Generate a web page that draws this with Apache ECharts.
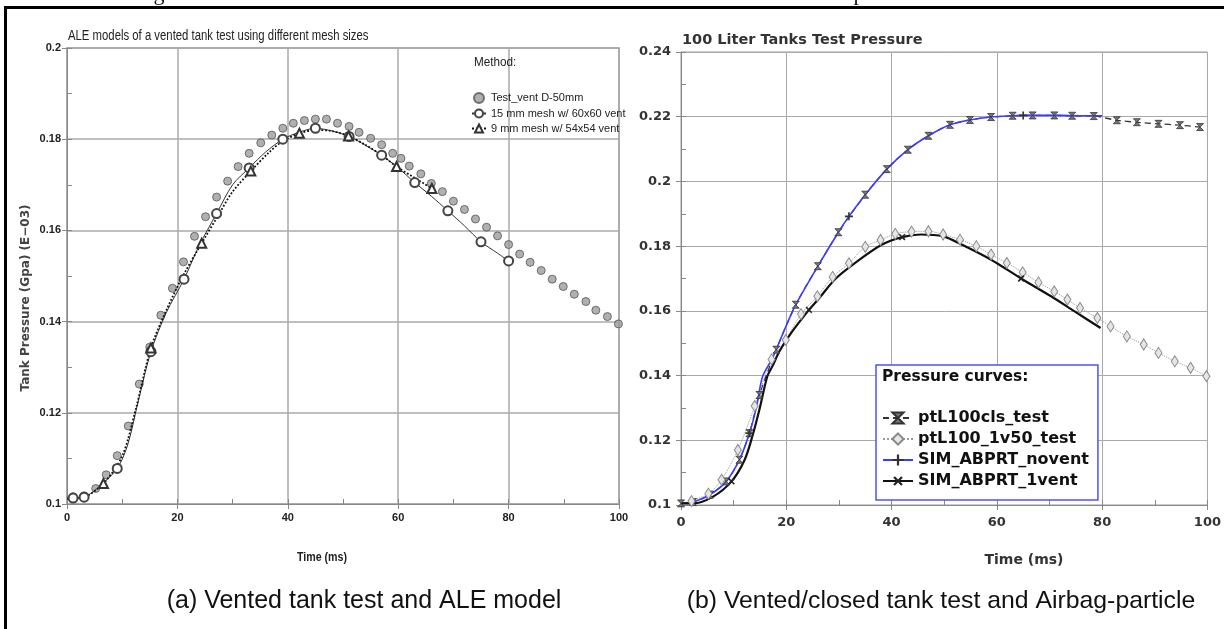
<!DOCTYPE html>
<html>
<head>
<meta charset="utf-8">
<script src="https://cdn.jsdelivr.net/npm/echarts@6/dist/echarts.min.js"></script>
<style>html,body{margin:0;padding:0;background:#fff;}#c{width:1224px;height:629px;}</style>
</head>
<body>
<div id="c"></div>
<script>
// ---------- Panel (a) data ----------
const xTicksA = [0, 20, 40, 60, 80, 100];
const yTicksA = [0.1, 0.12, 0.14, 0.16, 0.18, 0.2];
const namesA = ['Test_vent D-50mm', '15 mm mesh w/ 60x60 vent', '9 mm mesh w/ 54x54 vent'];
const testVent = [[1.1,0.1016],[3.1,0.1018],[5.2,0.1034],[7.1,0.1064],[9.1,0.1106],[11.1,0.1171],[13.1,0.1263],[15.0,0.1344],[17.0,0.1414],[19.1,0.1473],[21.1,0.1531],[23.1,0.1587],[25.1,0.1630],[27.1,0.1673],[29.1,0.1708],[31.0,0.1740],[33.0,0.1769],[35.1,0.1792],[37.1,0.1809],[39.1,0.1824],[41.0,0.1835],[43.0,0.1841],[45.0,0.1844],[47.0,0.1844],[49.0,0.1835],[51.1,0.1828],[52.9,0.1815],[55.0,0.1802],[57.0,0.1788],[59.0,0.1769],[60.5,0.1758],[62.0,0.1741],[64.1,0.1724],[66.0,0.1703],[68.0,0.1685],[70.0,0.1664],[72.0,0.1646],[74.0,0.1625],[76.0,0.1607],[78.0,0.1588],[80.0,0.1569],[82.0,0.1548],[83.9,0.1530],[85.9,0.1512],[87.9,0.1493],[89.9,0.1477],[91.9,0.1460],[94.0,0.1444],[95.8,0.1425],[97.9,0.1411],[99.9,0.1395]];
const mesh15Marks = [[1.1,0.1013],[3.1,0.1015],[9.1,0.1078],[15.2,0.1334],[21.2,0.1493],[27.1,0.1637],[33.0,0.1737],[39.1,0.1800],[45.0,0.1824],[51.1,0.1806],[57.0,0.1765],[63.0,0.1705],[69.0,0.1643],[75.0,0.1575],[80.0,0.1533]];
const mesh15Curve = [[0,0.1012],[6,0.1040],[11,0.1130],[13,0.1230],[18,0.1420],[24,0.1568],[30,0.1700],[36,0.1772],[42,0.1815],[48,0.1818],[54,0.1787],[60,0.1737],[66,0.1675],[72,0.1610],[78,0.1550]];
const mesh9Marks = [[6.6,0.1045],[15.2,0.1342],[24.4,0.1572],[33.3,0.1730],[42.1,0.1813],[51.0,0.1807],[59.7,0.1740],[66.1,0.1692]];
const mesh9Curve = [[0,0.1012],[3,0.1015],[10,0.1105],[12.5,0.1210],[18,0.1425],[21,0.1500],[27.5,0.1635],[30,0.1685],[36.5,0.1770],[39,0.1795],[45,0.1820],[48,0.1818],[54,0.1788],[57,0.1765],[63,0.1715]];

// ---------- Panel (b) data ----------
const xTicksB = [0, 20, 40, 60, 80, 100];
const yTicksB = [0.1, 0.12, 0.14, 0.16, 0.18, 0.2, 0.22, 0.24];
const namesB = ['ptL100cls_test', 'ptL100_1v50_test', 'SIM_ABPRT_novent', 'SIM_ABPRT_1vent'];
const closedTest = [[0,0.1005],[2.3,0.1009],[5.5,0.1032],[8.6,0.1073],[11.1,0.1140],[13.0,0.1222],[14.9,0.1340],[18.1,0.1480],[21.8,0.1619],[26.0,0.1738],[29.9,0.1843],[35.0,0.1959],[39.1,0.2038],[43.1,0.2098],[47.0,0.2141],[51.1,0.2175],[54.9,0.2190],[58.9,0.2199],[63.0,0.2203],[66.8,0.2204],[70.9,0.2204],[74.3,0.2203],[78.4,0.2202],[82.8,0.2189],[86.6,0.2183],[90.7,0.2178],[94.8,0.2174],[98.6,0.2168]];
const ventTest = [[2.0,0.1012],[5.2,0.1035],[7.7,0.1078],[10.8,0.1170],[14.0,0.1306],[17.2,0.1450],[19.9,0.1510],[22.8,0.1590],[25.9,0.1645],[28.8,0.1705],[31.9,0.1747],[35.0,0.1798],[37.9,0.1819],[40.7,0.1838],[43.8,0.1845],[47.0,0.1846],[49.8,0.1836],[53.0,0.1820],[56.1,0.1800],[58.9,0.1774],[61.9,0.1748],[64.9,0.1719],[67.9,0.1688],[70.9,0.1660],[73.4,0.1635],[75.8,0.1609],[79.1,0.1578],[81.6,0.1552],[84.7,0.1521],[87.9,0.1496],[90.7,0.1470],[93.8,0.1444],[96.8,0.1424],[99.8,0.1398]];
const noventCurve = [[0,0.1005],[2.3,0.1009],[5.5,0.1032],[8.6,0.1073],[11.1,0.1140],[14.3,0.1300],[15.5,0.1397],[17.4,0.1455],[19.9,0.1551],[21.8,0.1619],[26.0,0.1738],[29.9,0.1843],[35.0,0.1959],[39.1,0.2038],[43.1,0.2098],[47.0,0.2141],[51.1,0.2175],[54.9,0.2190],[58.9,0.2199],[63.0,0.2203],[72,0.2204],[76,0.2203],[80.0,0.2203]];
const noventMarks = [[13.0,0.1222],[31.9,0.1892],[65.0,0.2204]];
const oneventCurve = [[0,0.1005],[2.3,0.1005],[6.1,0.1026],[12.1,0.1140],[13.6,0.1215],[14.9,0.1295],[16.4,0.1398],[17.4,0.1430],[18.7,0.1475],[20.9,0.1531],[26.2,0.1638],[29.4,0.1700],[33.8,0.1757],[38.2,0.1805],[45.5,0.1836],[49.8,0.1830],[53.3,0.1805],[58.9,0.1758],[70.3,0.1645],[74.7,0.1599],[79.7,0.1547]];
const oneventMarks = [[9.6,0.1073],[24.3,0.1603],[42.0,0.1828],[64.6,0.1700]];

// ---------- helpers ----------
function merge(curve, marks) {
  return curve.map(p => ({ value: p, symbol: 'none' }))
    .concat(marks.map(p => ({ value: p })))
    .sort((a, b) => a.value[0] - b.value[0]);
}
const SANS = "'Liberation Sans',Arial,sans-serif";
const WIDE = "'DejaVu Sans',Verdana,sans-serif";
const stepA = xTicksA[1] - xTicksA[0];
const stepYA = +(yTicksA[1] - yTicksA[0]).toFixed(4);
const stepB = xTicksB[1] - xTicksB[0];
const stepYB = +(yTicksB[1] - yTicksB[0]).toFixed(4);

const PATH_HOUR = 'path://M0,0 L10,0 L0,10 L10,10 Z';
const PATH_PLUS = 'path://M4,0 L6,0 L6,4 L10,4 L10,6 L6,6 L6,10 L4,10 L4,6 L0,6 L0,4 L4,4 Z';

function mainX(grid, ticks, step, font, size, color, margin, gridColor, gw) {
  return { gridIndex: grid, type: 'value', min: ticks[0], max: ticks[ticks.length - 1], interval: step,
    axisLine: { lineStyle: { color: '#888', width: 1 } },
    axisTick: { length: 5, lineStyle: { color: '#888' } },
    axisLabel: { color: color, fontFamily: font, fontSize: size, fontWeight: 'bold', margin: margin },
    splitLine: { show: true, lineStyle: { color: gridColor, width: gw } } };
}
function mainY(grid, ticks, step, font, size, color, margin, gridColor, gw) {
  return { gridIndex: grid, type: 'value', position: 'left', min: ticks[0], max: ticks[ticks.length - 1], interval: step,
    axisLine: { show: true, lineStyle: { color: '#888', width: 1 } },
    axisTick: { show: true, length: 5, lineStyle: { color: '#888' } },
    axisLabel: { color: color, fontFamily: font, fontSize: size, fontWeight: 'bold', margin: margin },
    splitLine: { show: true, lineStyle: { color: gridColor, width: gw } } };
}
function minorX(grid, ticks, step) {
  return { gridIndex: grid, type: 'value', position: 'bottom', min: ticks[0], max: ticks[ticks.length - 1], interval: step / 2,
    axisLine: { show: false }, axisLabel: { show: false }, splitLine: { show: false },
    axisTick: { show: true, inside: true, length: 5, lineStyle: { color: '#888' } } };
}
function minorY(grid, ticks, step) {
  return { gridIndex: grid, type: 'value', position: 'left', min: ticks[0], max: ticks[ticks.length - 1], interval: +(step / 2).toFixed(4),
    axisLine: { show: false }, axisLabel: { show: false }, splitLine: { show: false },
    axisTick: { show: true, inside: true, length: 5, lineStyle: { color: '#888' } } };
}
function txt(x, y, text, font, size, weight, color, align, extra) {
  return Object.assign({ type: 'text', x: x, y: y, z: 100,
    style: { text: text, fontFamily: font, fontSize: size, fontWeight: weight, fill: color, align: align || 'left', verticalAlign: 'middle' } }, extra || {});
}

const chart = echarts.init(document.getElementById('c'), null, { renderer: 'canvas' });
chart.setOption({
  animation: false,
  backgroundColor: '#fff',
  grid: [
    { left: 67, top: 48, width: 552, height: 456, show: true, borderColor: '#999', borderWidth: 1.5 },
    { left: 681, top: 52, width: 530, height: 453, show: true, borderColor: '#999', borderWidth: 1 }
  ],
  xAxis: [
    mainX(0, xTicksA, stepA, SANS, 11, '#222', 8, '#aaa', 1.5),
    minorX(0, xTicksA, stepA),
    mainX(1, xTicksB, stepB, WIDE, 13, '#333', 11, '#aaa', 1),
    minorX(1, xTicksB, stepB)
  ],
  yAxis: [
    mainY(0, yTicksA, stepYA, SANS, 11, '#222', 6, '#aaa', 1.5),
    minorY(0, yTicksA, stepYA),
    mainY(1, yTicksB, stepYB, WIDE, 13, '#333', 10, '#aaa', 1),
    minorY(1, yTicksB, stepYB)
  ],
  legend: [
    { data: namesA, orient: 'vertical', left: 471, top: 92, padding: 0, itemWidth: 14, itemHeight: 10, itemGap: 4,
      textStyle: { fontFamily: SANS, fontSize: 11, color: '#222' } },
    { data: namesB, orient: 'vertical', left: 876, top: 365, padding: [45, 9, 11, 6], itemWidth: 30, itemHeight: 14, itemGap: 5,
      borderColor: '#5050ff', borderWidth: 1.5, backgroundColor: '#fff',
      textStyle: { fontFamily: WIDE, fontWeight: 'bold', fontSize: 16, color: '#111' } }
  ],
  series: [
    { type: 'scatter', name: namesA[0], xAxisIndex: 0, yAxisIndex: 0, data: testVent, symbol: 'circle', symbolSize: 8,
      itemStyle: { color: '#9c9c9c', borderColor: '#555', borderWidth: 1 } },
    { type: 'line', name: namesA[1], xAxisIndex: 0, yAxisIndex: 0, data: merge(mesh15Curve, mesh15Marks), smooth: 0.3,
      symbol: 'emptyCircle', symbolSize: 9, showAllSymbol: true,
      lineStyle: { color: '#333', width: 1 }, itemStyle: { color: '#444', borderWidth: 1 } },
    { type: 'line', name: namesA[2], xAxisIndex: 0, yAxisIndex: 0, data: merge(mesh9Curve, mesh9Marks), smooth: 0.3,
      symbol: 'emptyTriangle', symbolSize: 9, showAllSymbol: true,
      lineStyle: { color: '#111', width: 1.8, type: 'dotted' }, itemStyle: { color: '#333', borderWidth: 1 } },

    { type: 'line', name: namesB[0], xAxisIndex: 2, yAxisIndex: 2, data: closedTest, smooth: 0.3,
      symbol: PATH_HOUR, symbolSize: 7, showAllSymbol: true,
      lineStyle: { color: '#333', width: 1.3, type: [6, 4] }, itemStyle: { color: '#777', borderColor: '#333', borderWidth: 0.8 } },
    { type: 'line', name: namesB[1], xAxisIndex: 2, yAxisIndex: 2, data: ventTest, smooth: 0.3,
      symbol: 'diamond', symbolSize: [7, 11], showAllSymbol: true,
      lineStyle: { color: '#999', width: 1, type: 'dotted' }, itemStyle: { color: '#e6e6e6', borderColor: '#888', borderWidth: 1 } },
    { type: 'line', name: namesB[2], xAxisIndex: 2, yAxisIndex: 2, data: merge(noventCurve, noventMarks), smooth: 0.3,
      symbol: PATH_PLUS, symbolSize: 8, showAllSymbol: true,
      lineStyle: { color: '#3c3cff', width: 1.6 }, itemStyle: { color: '#333' } },
    { type: 'line', name: namesB[3], xAxisIndex: 2, yAxisIndex: 2, data: merge(oneventCurve, oneventMarks), smooth: 0.3,
      symbol: PATH_PLUS, symbolRotate: 45, symbolSize: 8, showAllSymbol: true,
      lineStyle: { color: '#111', width: 2.2 }, itemStyle: { color: '#222' } }
  ],
  graphic: [
    { type: 'rect', z: 100, shape: { x: 4, y: 6, width: 1220, height: 3 }, style: { fill: '#000' } },
    { type: 'rect', z: 100, shape: { x: 4, y: 6, width: 3, height: 623 }, style: { fill: '#000' } },
    txt(159, 5, 'g', "'Liberation Serif',serif", 22, 'normal', '#111', 'center', { style: { text: 'g', fontFamily: "'Liberation Serif',serif", fontSize: 22, fill: '#111', align: 'center', verticalAlign: 'bottom' }, z: 99 }),
    txt(859, 5, 'p', "'Liberation Serif',serif", 22, 'normal', '#111', 'center', { style: { text: 'p', fontFamily: "'Liberation Serif',serif", fontSize: 22, fill: '#111', align: 'center', verticalAlign: 'bottom' }, z: 99 }),
    txt(68, 36, 'ALE models of a vented tank test using different mesh sizes', SANS, 14, 'normal', '#222', 'left', { scaleX: 0.81 }),
    txt(26, 298, 'Tank Pressure (Gpa) (E\u221203)', WIDE, 12, 'bold', '#444', 'center', { rotation: Math.PI / 2 }),
    txt(322, 557, 'Time (ms)', SANS, 13, 'bold', '#222', 'center', { scaleX: 0.82 }),
    txt(474, 62, 'Method:', SANS, 13, 'normal', '#222', 'left', { scaleX: 0.9 }),
    txt(682, 40, '100 Liter Tanks Test Pressure', WIDE, 14.5, 'bold', '#333'),
    txt(1024, 560, 'Time (ms)', WIDE, 14, 'bold', '#333', 'center'),
    txt(882, 377, 'Pressure curves:', WIDE, 15.5, 'bold', '#111'),
    txt(364, 601, '(a) Vented tank test and ALE model', SANS, 25, 'normal', '#111', 'center'),
    txt(941, 601, '(b) Vented/closed tank test and Airbag-particle', SANS, 24.8, 'normal', '#111', 'center')
  ]
});
</script>
</body>
</html>
